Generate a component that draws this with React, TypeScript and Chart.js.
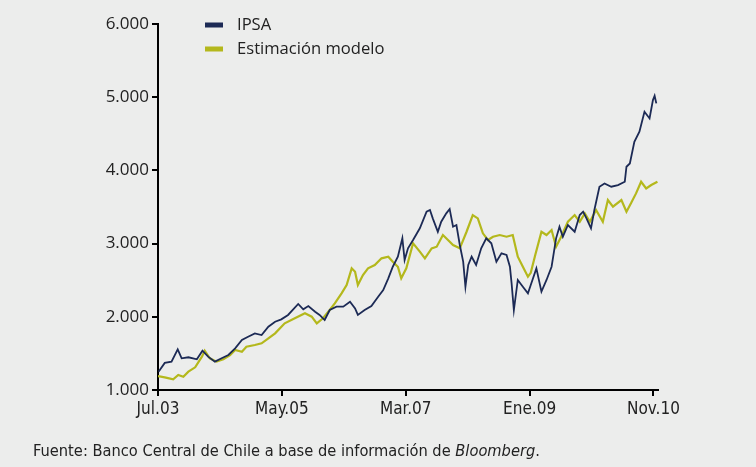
import React, { useEffect, useRef } from "react";
import { Chart, registerables } from "chart.js";

Chart.register(...registerables);

// months since Jul.2003
const ipsaMonths = [
  0.1, 1.2, 2.4, 3.5, 4.2, 5.4, 6.9, 7.9, 8.9, 10.1, 11.3, 12.5, 13.7, 14.9, 16.0, 17.2, 18.4, 19.6, 20.8,
  21.9, 23.1, 24.9, 25.8, 26.7, 27.9, 28.7, 29.6, 30.5, 31.7, 32.9, 34.1, 35.0, 35.5, 36.7, 37.9, 39.1,
  40.0, 40.9, 41.7, 42.6, 43.4, 43.8, 44.4, 45.3, 46.5, 47.7, 48.3, 48.8, 49.7, 50.3, 51.2, 51.8, 52.4,
  53.0, 53.6, 54.2, 54.6, 55.1, 55.7, 56.5, 57.4, 58.3, 59.2, 60.1, 61.0, 61.9, 62.5, 62.8, 63.2, 63.9,
  64.8, 65.7, 66.2, 67.2, 68.1, 69.0, 69.9, 70.7, 71.3, 71.9, 72.8, 74.0, 74.9, 75.5, 76.1, 76.9, 77.5,
  78.4, 79.3, 80.5, 81.7, 82.9, 83.2, 83.8, 84.6, 85.5, 86.4, 87.3, 87.9, 88.2, 88.5,
];
const ipsaValues = [
  1250, 1370, 1387, 1556, 1433, 1447, 1419, 1537, 1455, 1387, 1433, 1478, 1570, 1683, 1728, 1774, 1751, 1865, 1933,
  1965, 2025, 2175, 2102, 2147, 2070, 2025, 1956, 2093, 2138, 2138, 2206, 2115, 2025, 2093, 2147, 2275,
  2366, 2526, 2684, 2821, 3072, 2776, 2935, 3049, 3209, 3436, 3459, 3345, 3162, 3299, 3413, 3472, 3231,
  3254, 2981, 2753, 2411, 2708, 2821, 2708, 2935, 3072, 3004, 2753, 2867, 2844, 2684, 2457, 2093, 2503,
  2411, 2321, 2434, 2662, 2343, 2503, 2684, 3072, 3231, 3094, 3254, 3162, 3390, 3436, 3345, 3209, 3459,
  3777, 3822, 3777, 3800, 3845, 4050, 4095, 4391, 4528, 4801, 4710, 4961, 5020, 4916,
];

const modelMonths = [
  0.0, 1.2, 2.7, 3.6, 4.5, 5.4, 6.6, 7.8, 8.3, 9.2, 10.4, 11.6, 12.8, 13.7, 14.9, 15.7, 17.2, 18.4, 19.6,
  20.8, 22.5, 24.3, 26.1, 27.3, 28.2, 29.3, 30.5, 31.4, 32.6, 33.5, 34.4, 35.0, 35.5, 36.4, 37.3, 38.5,
  39.7, 40.9, 41.7, 42.6, 43.2, 44.1, 45.3, 46.5, 47.4, 48.6, 49.5, 50.6, 51.5, 52.4, 53.6, 54.8, 55.9,
  56.8, 57.7, 58.6, 59.5, 60.7, 61.9, 63.0, 63.9, 64.8, 65.7, 66.2, 67.0, 68.1, 69.0, 69.9, 70.7, 71.6,
  72.8, 74.0, 74.9, 75.8, 76.7, 77.8, 79.0, 79.9, 80.8, 82.3, 83.2, 84.0, 84.9, 85.8, 86.7, 87.6, 88.7,
];
const modelValues = [
  1190, 1173, 1146, 1205, 1182, 1250, 1310, 1455, 1537, 1433, 1387, 1419, 1478, 1546, 1523, 1592, 1615, 1638, 1706,
  1774, 1911, 1980, 2048, 2002, 1911, 1980, 2093, 2184, 2321, 2434, 2662, 2616, 2434, 2571, 2662, 2708,
  2799, 2821, 2753, 2684, 2526, 2662, 3004, 2890, 2799, 2935, 2958, 3117, 3049, 2981, 2935, 3162, 3390,
  3345, 3140, 3049, 3094, 3117, 3094, 3117, 2821, 2684, 2548, 2600, 2844, 3162, 3117, 3185, 2958, 3094,
  3299, 3390, 3299, 3413, 3299, 3459, 3299, 3595, 3504, 3595, 3436, 3550, 3686, 3845, 3754, 3800, 3845,
];

const xTickMonths = [0, 22, 44, 66, 88];
const xTickLabels = ["Jul.03", "May.05", "Mar.07", "Ene.09", "Nov.10"];
const yTickValues = [1000, 2000, 3000, 4000, 5000, 6000];
const seriesNames = ["IPSA", "Estimación modelo"];
const seriesColors = ["#1c2a55", "#b4b81c"];

const fmt = (v: number) => {
  const s = String(Math.round(v));
  return s.replace(/\B(?=(\d{3})+(?!\d))/g, ".");
};

const legendPlugin = {
  id: "customLegend",
  afterDraw(chart: any) {
    const ctx = chart.ctx;
    ctx.save();
    chart.data.datasets.forEach((ds: any, i: number) => {
      const y = 25 + i * 24;
      ctx.fillStyle = ds.borderColor;
      ctx.fillRect(205, y - 2.5, 18, 5);
      ctx.fillStyle = "#222";
      ctx.font = "16.6px 'Open Sans', sans-serif";
      ctx.textBaseline = "middle";
      ctx.textAlign = "left";
      ctx.fillText(ds.label, 237, y);
    });
    ctx.restore();
  },
};

export default function App() {
  const ref = useRef<HTMLCanvasElement>(null);
  useEffect(() => {
    document.body.style.margin = "0";
    const ctx = ref.current!;
    const chart = new Chart(ctx, {
      type: "line",
      data: {
        datasets: [
          {
            label: seriesNames[0],
            data: ipsaMonths.map((m, i) => ({ x: m, y: ipsaValues[i] })),
            borderColor: seriesColors[0],
            borderWidth: 1.8,
            pointRadius: 0,
            tension: 0,
          },
          {
            label: seriesNames[1],
            data: modelMonths.map((m, i) => ({ x: m, y: modelValues[i] })),
            borderColor: seriesColors[1],
            borderWidth: 2.2,
            pointRadius: 0,
            tension: 0,
          },
        ],
      },
      options: {
        animation: false,
        responsive: false,
        layout: { padding: { top: 24, right: 98, bottom: 0, left: 0 } },
        plugins: { legend: { display: false }, tooltip: { enabled: false } },
        scales: {
          x: {
            type: "linear",
            min: 0,
            max: 88.8,
            afterBuildTicks: (s: any) => {
              s.ticks = xTickMonths.map((v) => ({ value: v }));
            },
            afterFit: (s: any) => {
              s.height = 77;
            },
            ticks: {
              autoSkip: false,
              maxRotation: 0,
              padding: 3,
              color: "#222",
              font: { family: "'Liberation Sans Narrow', 'DejaVu Sans Condensed', sans-serif", size: 17 },
              callback: (v: any) => {
                const i = xTickMonths.indexOf(Number(v));
                return i >= 0 ? xTickLabels[i] : "";
              },
            },
            grid: { drawOnChartArea: false, drawTicks: true, tickLength: 6, color: "#000", lineWidth: 2 },
            border: { display: true, color: "#000", width: 2 },
          },
          y: {
            min: 1000,
            max: 6000,
            afterBuildTicks: (s: any) => {
              s.ticks = yTickValues.map((v) => ({ value: v }));
            },
            afterFit: (s: any) => {
              s.width = 158;
            },
            ticks: {
              padding: 3,
              color: "#222",
              font: { family: "'Open Sans', sans-serif", size: 17 },
              callback: (v: any) => fmt(Number(v)),
            },
            grid: { drawOnChartArea: false, drawTicks: true, tickLength: 6, color: "#000", lineWidth: 2 },
            border: { display: true, color: "#000", width: 2 },
          },
        },
      },
      plugins: [legendPlugin],
    });
    return () => chart.destroy();
  }, []);

  return (
    <div style={{ position: "relative", width: 756, height: 467, background: "#ecedec" }}>
      <canvas ref={ref} width={756} height={467} style={{ position: "absolute", left: 0, top: 0 }} />
      <div
        style={{
          position: "absolute",
          left: 33,
          top: 441,
          fontFamily: "'Liberation Sans Narrow', 'DejaVu Sans Condensed', sans-serif",
          fontSize: 16.3,
          color: "#222",
          whiteSpace: "nowrap",
          lineHeight: "20px",
        }}
      >
        Fuente: Banco Central de Chile a base de información de <i>Bloomberg</i>.
      </div>
    </div>
  );
}
